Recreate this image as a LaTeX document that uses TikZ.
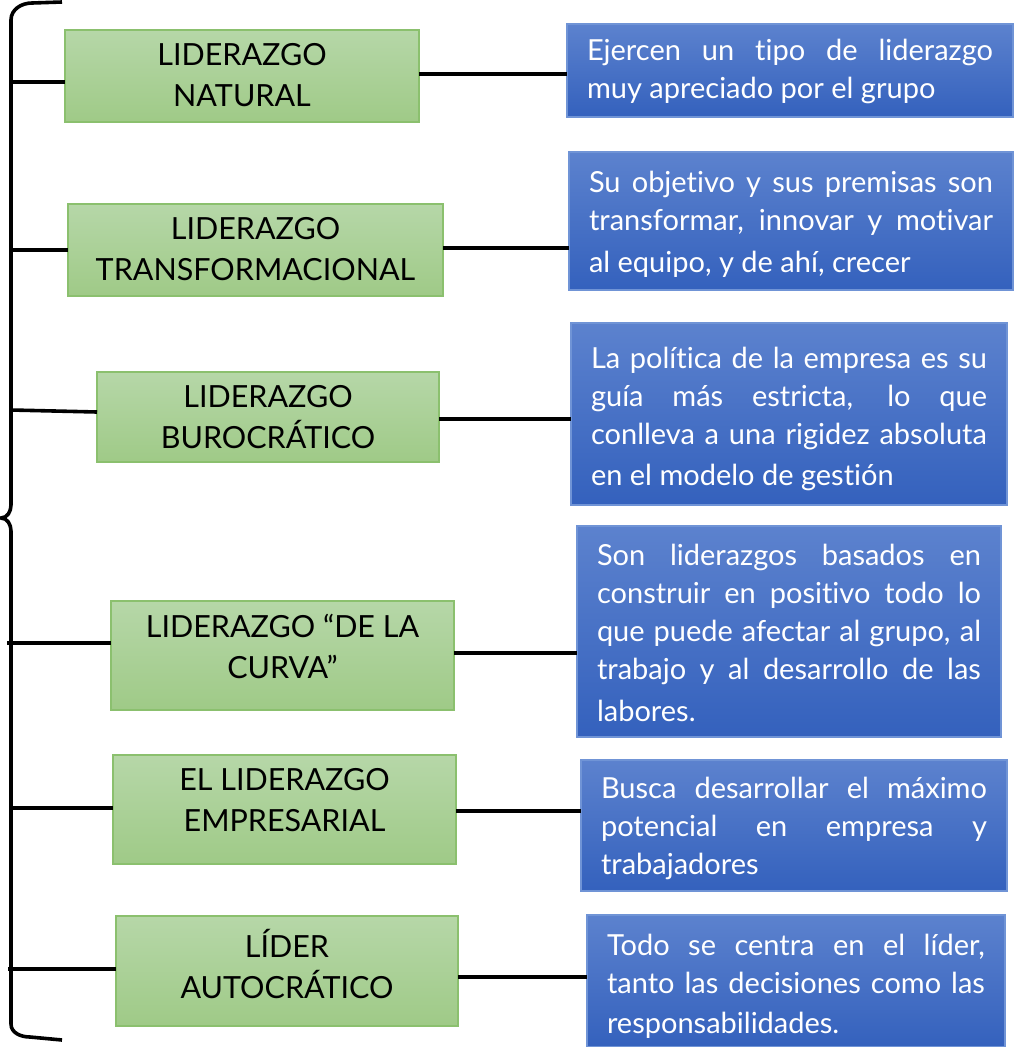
\documentclass[tikz,border=0pt]{standalone}
\usepackage{fontspec}
\setmainfont{Lato}[Ligatures={NoCommon,NoRare}]
\usetikzlibrary{calc}
\definecolor{gtop}{HTML}{B6D7A8}
\definecolor{gbot}{HTML}{9FCA87}
\definecolor{gline}{HTML}{8BC06E}
\definecolor{btop}{HTML}{5C82CE}
\definecolor{bbot}{HTML}{3461BD}
\definecolor{bline}{HTML}{7094D6}
\newdimen\jw
\newcommand{\jl}[1]{\makebox[\jw][s]{\spaceskip=0pt\xspaceskip=0pt #1}}
\newcommand{\tstrut}[1]{\rule{0pt}{#1pt}}
\newcommand{\gtext}[3]{\parbox[c][#2pt][t]{#1pt}{\centering\vspace*{13pt}#3}}
\tikzset{
  gbox/.style={anchor=north west, draw=gline, line width=1.3pt, top color=gtop, bottom color=gbot,
    inner sep=0pt, outer sep=0pt, text=black, font=\fontsize{30.5}{41}\selectfont},
  bbox/.style={anchor=north west, draw=bline, line width=1.3pt, top color=btop, bottom color=bbot,
    inner xsep=20pt, inner ysep=0pt, outer sep=0pt, text=white, align=flush left,
    text width=#1, execute at begin node={\jw=#1\relax},
    font=\fontsize{29}{38}\selectfont},
  conn/.style={line width=3.6pt, draw=black},
  brace/.style={line width=3.6pt, draw=black, line cap=butt}
}
\begin{document}
\begin{tikzpicture}[x=1pt,y=-1pt]
\useasboundingbox (0,0) rectangle (1015,1047);
% green boxes
\node[gbox] (g1) at (65,30) {\gtext{354}{92}{LIDERAZGO\\NATURAL}};
\node[gbox] (g2) at (68,204) {\gtext{375}{92}{LIDERAZGO\\TRANSFORMACIONAL}};
\node[gbox] (g3) at (97,372) {\gtext{342}{90}{LIDERAZGO\\BUROCRÁTICO}};
\node[gbox] (g4) at (111,601) {\gtext{343}{109}{LIDERAZGO “DE LA\\CURVA”}};
\node[gbox] (g5) at (113,755) {\gtext{343}{109}{EL LIDERAZGO\\EMPRESARIAL}};
\node[gbox] (g6) at (116,916) {\gtext{342}{110}{LÍDER\\AUTOCRÁTICO}};
% blue boxes
\node[bbox=406pt, minimum height=93pt] (b1) at (567,24)
  {\jl{\tstrut{23}Ejercen un tipo de liderazgo}\\muy apreciado por el grupo};
\node[bbox=404pt, minimum height=138pt] (b2) at (569,152)
  {\jl{\tstrut{27}Su objetivo y sus premisas son}\\\jl{transformar, innovar y motivar}\\[4pt]al equipo, y de ahí, crecer};
\node[bbox=396pt, minimum height=182pt] (b3) at (571,323)
  {\jl{\tstrut{31}La política de la empresa es su}\\\jl{guía más estricta, lo que}\\\jl{conlleva a una rigidez absoluta}\\[3pt]en el modelo de gestión};
\node[bbox=384pt, minimum height=211pt] (b4) at (577,526)
  {\jl{\tstrut{25}Son liderazgos basados en}\\\jl{construir en positivo todo lo}\\\jl{que puede afectar al grupo, al}\\\jl{trabajo y al desarrollo de las}\\[4pt]labores.};
\node[bbox=386pt, minimum height=131pt] (b5) at (581,760)
  {\jl{\tstrut{27}Busca desarrollar el máximo}\\\jl{potencial en empresa y}\\trabajadores};
\node[bbox=378pt, minimum height=132pt] (b6) at (587,915)
  {\jl{\tstrut{31}Todo se centra en el líder,}\\\jl{tanto las decisiones como las}\\[2pt]responsabilidades.};
% right connectors
\draw[conn] ([yshift=2]g1.east) -- ([yshift=2]g1.east -| b1.west);
\draw[conn] ([yshift=2]g2.east) -- ([yshift=2]g2.east -| b2.west);
\draw[conn] ([yshift=-2]g3.east) -- ([yshift=-2]g3.east -| b3.west);
\draw[conn] ([yshift=2.5]g4.east) -- ([yshift=2.5]g4.east -| b4.west);
\draw[conn] ([yshift=-1.5]g5.east) -- ([yshift=-1.5]g5.east -| b5.west);
\draw[conn] ([yshift=-6]g6.east) -- ([yshift=-6]g6.east -| b6.west);
% brace
\coordinate (bt) at (62,2);
\coordinate (bm) at (1,518);
\coordinate (bb) at (62,1040);
\draw[brace] (bt) -- (32,3) to[out=180,in=90] (11,20) -- (11,505)
  to[out=-90,in=0] (bm) to[out=0,in=90] (11,531) -- (11,1024)
  to[out=-90,in=180] (30,1037) -- (bb);
% left connectors
\coordinate (l1) at (11,82);
\coordinate (l2) at (11,250);
\coordinate (l3) at (11,410);
\coordinate (l4) at (7,643);
\coordinate (l5) at (9,808);
\coordinate (l6) at (8,969);
\draw[conn] (l1) -- (l1 -| g1.west);
\draw[conn] (l2) -- (l2 -| g2.west);
\draw[conn] (l3) -- ($(l3 -| g3.west)+(0,2)$);
\draw[conn] (l4) -- (l4 -| g4.west);
\draw[conn] (l5) -- (l5 -| g5.west);
\draw[conn] (l6) -- (l6 -| g6.west);
\end{tikzpicture}
\end{document}
